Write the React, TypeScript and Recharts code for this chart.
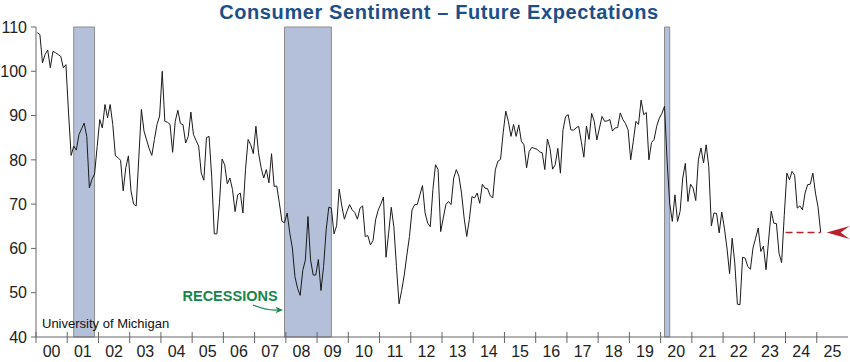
import { LineChart, Line, XAxis, YAxis, ReferenceArea, ReferenceLine, ReferenceDot } from 'recharts'

// Index of Consumer Expectations, monthly values
const v2000 = [108.7, 108.3, 101.9, 103.8, 104.8, 100.8, 104.5, 104.2, 103.8, 103.4, 100.8, 101.5]
const v2001 = [90.6, 81.0, 83.1, 82.2, 85.7, 87.0, 88.3, 85.3, 73.7, 75.6, 76.8, 83.0]
const v2002 = [89.1, 87.2, 92.5, 89.5, 92.5, 88.0, 80.9, 80.5, 79.9, 73.0, 78.2, 80.9]
const v2003 = [73.0, 70.0, 69.6, 80.5, 91.4, 86.5, 84.5, 82.5, 81.0, 84.6, 88.0, 89.9]
const v2004 = [100.0, 88.7, 88.5, 88.0, 81.7, 88.7, 91.2, 88.2, 87.9, 83.8, 85.3, 90.8]
const v2005 = [85.7, 84.4, 83.1, 77.0, 75.4, 85.0, 85.3, 76.3, 63.3, 63.3, 70.3, 80.2]
const v2006 = [78.9, 74.6, 75.9, 73.3, 68.3, 72.1, 72.5, 68.0, 77.8, 84.6, 83.4, 81.4]
const v2007 = [87.6, 81.6, 78.2, 75.9, 77.8, 74.8, 81.4, 74.0, 74.1, 70.3, 66.1, 65.8]
const v2008 = [68.0, 63.5, 60.1, 53.6, 51.0, 49.4, 55.0, 57.4, 67.2, 57.4, 54.0, 54.0]
const v2009 = [57.5, 50.5, 55.9, 64.2, 69.3, 69.1, 63.3, 65.1, 73.4, 69.6, 66.6, 68.4]
const v2010 = [69.9, 68.7, 68.1, 66.6, 69.1, 69.6, 62.7, 62.9, 60.8, 61.8, 66.5, 68.7]
const v2011 = [70.0, 71.6, 58.0, 63.5, 69.3, 64.9, 55.9, 47.5, 50.5, 54.0, 58.5, 62.7]
const v2012 = [68.7, 69.9, 69.9, 72.1, 74.2, 68.0, 65.7, 64.9, 73.3, 78.9, 77.8, 63.8]
const v2013 = [66.9, 69.9, 70.6, 69.9, 75.9, 77.8, 76.3, 72.5, 66.9, 62.7, 66.5, 71.7]
const v2014 = [71.4, 72.5, 70.2, 74.5, 73.6, 73.5, 71.9, 71.4, 77.8, 79.7, 80.1, 86.1]
const v2015 = [91.0, 88.7, 85.3, 88.0, 85.3, 87.9, 84.2, 83.4, 78.2, 81.9, 82.8, 82.6]
const v2016 = [82.4, 81.8, 81.6, 77.8, 84.7, 82.6, 77.9, 78.9, 82.6, 77.0, 86.8, 89.8]
const v2017 = [90.2, 86.8, 86.7, 87.2, 87.6, 84.2, 80.6, 87.6, 84.6, 90.5, 88.7, 84.5]
const v2018 = [87.2, 89.8, 88.7, 88.8, 89.1, 86.5, 87.2, 87.3, 90.6, 89.1, 88.2, 86.8]
const v2019 = [80.0, 84.2, 88.7, 88.0, 93.5, 90.2, 90.7, 80.0, 83.9, 84.6, 87.6, 89.4]
const v2020 = [90.5, 92.1, 79.7, 70.1, 66.1, 72.1, 66.1, 68.4, 75.9, 79.2, 70.6, 74.5]
const v2021 = [73.6, 70.8, 80.0, 82.7, 79.3, 83.4, 78.5, 65.1, 68.0, 67.9, 63.5, 68.2]
const v2022 = [64.6, 60.1, 54.3, 62.3, 56.7, 47.4, 47.3, 58.0, 57.8, 55.9, 55.3, 60.1]
const v2023 = [62.3, 64.6, 59.3, 60.5, 55.2, 61.9, 68.4, 65.7, 65.6, 58.9, 56.8, 67.4]
const v2024 = [77.0, 75.5, 77.4, 76.5, 69.1, 69.6, 68.7, 72.5, 74.4, 74.5, 77.0, 72.5]
const v2025 = [69.3, 63.6]

const years = [
  v2000, v2001, v2002, v2003, v2004, v2005, v2006, v2007, v2008, v2009,
  v2010, v2011, v2012, v2013, v2014, v2015, v2016, v2017, v2018, v2019,
  v2020, v2021, v2022, v2023, v2024, v2025,
]

// recessions, [start, end] as 'YYYY-MM'
const recessions = [
  ['2001-03', '2001-11'],
  ['2007-12', '2009-06'],
  ['2020-02', '2020-04'],
]

const yTicks = [40, 50, 60, 70, 80, 90, 100, 110]
const yearTicks = Array.from({ length: 26 }, (_, i) => 2000 + i)

// monthly points sit at mid-month
const midMonth = (ym: string) => {
  const [y, m] = ym.split('-').map(Number)
  return y + (m - 0.5) / 12
}

const data = years.flatMap((vals, yi) =>
  vals.map((v, m) => ({ x: 2000 + yi + (m + 0.5) / 12, v }))
)
const last = data[data.length - 1]

const W = 850
const H = 362
const MARGIN = { top: 27, right: 2, bottom: 0, left: 0 }
const Y_AXIS_W = 36
const X_AXIS_H = 25
const YEAR_PX = (W - MARGIN.left - MARGIN.right - Y_AXIS_W) / 26
const AXIS = '#666'
const FONT = '"Liberation Sans", Arial, sans-serif'
const RED = '#b8202c'
const GREEN = '#17864a'

function YearTick({ x, y, payload }: any) {
  const yr = payload.value as number
  return (
    <g>
      <line x1={x} x2={x} y1={y - 5} y2={y + 6} stroke={AXIS} />
      <text x={x + YEAR_PX / 2} y={y + 20} textAnchor="middle" fontSize={16} fill="#222">
        {String(yr % 100).padStart(2, '0')}
      </text>
    </g>
  )
}

function ArrowHead({ cx, cy }: any) {
  if (cx == null || cy == null) return null
  return (
    <path
      d={`M${cx + 6},${cy} L${cx + 29},${cy - 6.5} L${cx + 20},${cy} L${cx + 29},${cy + 6.5} Z`}
      fill={RED}
    />
  )
}

export default function App() {
  return (
    <div style={{ position: 'absolute', left: 0, top: 0, width: W, height: H, background: '#fff', fontFamily: FONT }}>
      <LineChart width={W} height={H} data={data} margin={MARGIN} style={{ fontFamily: FONT }}>
        {recessions.map(([s, e]) => (
          <ReferenceArea
            key={s}
            x1={midMonth(s)}
            x2={midMonth(e)}
            y1={40}
            y2={110}
            fill="#b4c0da"
            fillOpacity={1}
            stroke="#8c8c8c"
            strokeWidth={1}
          />
        ))}
        <XAxis
          dataKey="x"
          type="number"
          domain={[2000, 2026]}
          ticks={yearTicks}
          interval={0}
          height={X_AXIS_H}
          tickSize={0}
          tickMargin={0}
          tickLine={false}
          axisLine={{ stroke: AXIS }}
          tick={<YearTick />}
        />
        <YAxis
          type="number"
          domain={[40, 110]}
          ticks={yTicks}
          interval={0}
          width={Y_AXIS_W}
          tickSize={5}
          tickMargin={4}
          tickLine={{ stroke: AXIS }}
          axisLine={{ stroke: AXIS }}
          tick={{ fontSize: 16, fill: '#222' }}
        />
        <Line
          type="linear"
          dataKey="v"
          stroke="#1a1a1a"
          strokeWidth={1}
          dot={false}
          isAnimationActive={false}
        />
        <ReferenceLine
          segment={[{ x: 2024, y: last.v }, { x: last.x, y: last.v }]}
          stroke={RED}
          strokeWidth={1.6}
          strokeDasharray="7 4"
        />
        <ReferenceDot x={last.x} y={last.v} r={0} shape={<ArrowHead />} />
      </LineChart>
      <svg width={W} height={H} style={{ position: 'absolute', left: 0, top: 0, pointerEvents: 'none', fontFamily: FONT }}>
        <text x={439} y={18.5} textAnchor="middle" fontSize={20} letterSpacing={0.6} fontWeight="bold" fill="#1b4f8a">
          Consumer Sentiment – Future Expectations
        </text>
        <text x={42} y={328.3} fontSize={13} fill="#111">University of Michigan</text>
        <text x={182.5} y={300.7} fontSize={14.5} fontWeight="bold" fill={GREEN}>RECESSIONS</text>
        <path d="M253,305 Q266,310.5 277,310" stroke={GREEN} strokeWidth={1.2} fill="none" />
        <path d="M283,310 L275.5,306.8 L277.5,310 L275.5,313.2 Z" fill={GREEN} />
      </svg>
    </div>
  )
}
